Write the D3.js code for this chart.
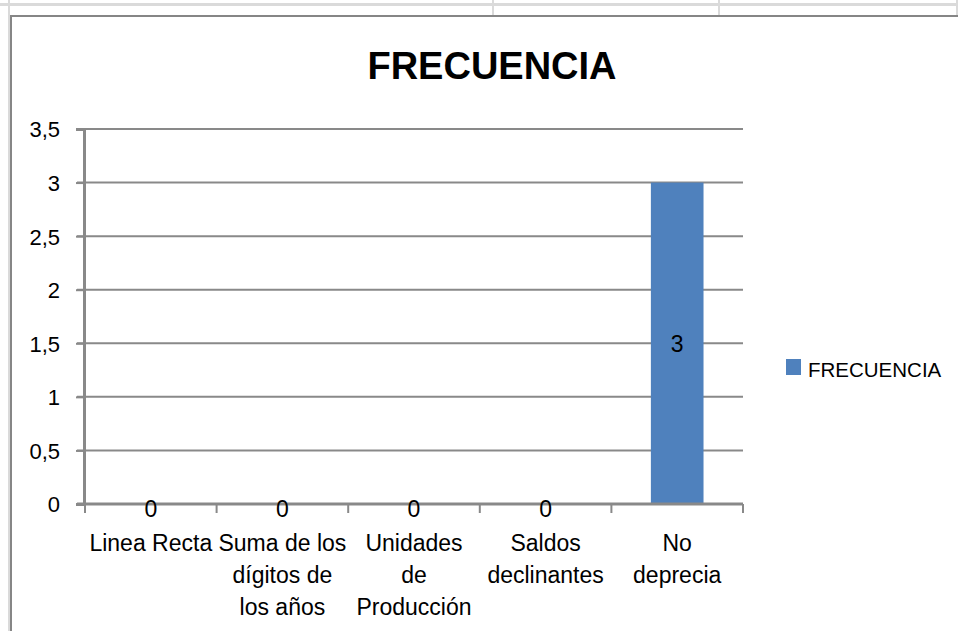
<!DOCTYPE html>
<html>
<head>
  <meta charset="utf-8">
  <script src="https://cdnjs.cloudflare.com/ajax/libs/d3/7.8.5/d3.min.js"></script>
  <style>
    * { box-sizing: border-box; }
    body, html {
      margin: 0;
      padding: 0;
      background: #fff;
      overflow: hidden;
    }
    svg text { font-family: "Liberation Sans", Arial, sans-serif; fill: #000; }
  </style>
</head>
<body>
<div id="chart"></div>
<script>
// data
const categories = ["Linea Recta", "Suma de los dígitos de los años", "Unidades de Producción", "Saldos declinantes", "No deprecia"];
const categoryLines = [
  ["Linea Recta"],
  ["Suma de los", "dígitos de", "los años"],
  ["Unidades", "de", "Producción"],
  ["Saldos", "declinantes"],
  ["No", "deprecia"]
];
const frecuencia = [0, 0, 0, 0, 3];
const yTicks = [0, 0.5, 1, 1.5, 2, 2.5, 3, 3.5];
const seriesName = "FRECUENCIA";
const chartTitle = "FRECUENCIA";

const W = 958, H = 631;
const gridColor = "#898989";
const barColor = "#4f81bd";

const svg = d3.select("#chart").append("svg")
  .attr("width", W)
  .attr("height", H);

svg.append("rect").attr("width", W).attr("height", H).attr("fill", "#fff");

// spreadsheet cells peeking out above the chart
const sheet = svg.append("g");
sheet.append("line").attr("x1", 0).attr("x2", W).attr("y1", 4.5).attr("y2", 4.5)
  .attr("stroke", "#dadada").attr("stroke-width", 3);
[9, 493, 719, 957].forEach(x => {
  sheet.append("line").attr("x1", x).attr("x2", x).attr("y1", 0).attr("y2", x === 9 ? H : 16)
    .attr("stroke", "#dadada").attr("stroke-width", 2);
});

// chart frame
svg.append("path")
  .attr("d", `M11,${H + 5}V16H${W + 5}`)
  .attr("fill", "none")
  .attr("stroke", "#868686")
  .attr("stroke-width", 2);

// scales
const x = d3.scaleBand().domain(categories).range([85, 743]).padding(0);
const y = d3.scaleLinear().domain([0, 3.5]).range([504, 129]);

const es = d3.formatLocale({ decimal: ",", thousands: ".", grouping: [3], currency: ["", " €"] });
const fmt = es.format(".1~f");

// gridlines
svg.append("g")
  .selectAll("line")
  .data(yTicks.filter(d => d > 0))
  .join("line")
    .attr("x1", 77).attr("x2", x.range()[1])
    .attr("y1", d => y(d)).attr("y2", d => y(d))
    .attr("stroke", gridColor)
    .attr("stroke-width", 2);

// y axis
const yAxis = svg.append("g")
  .attr("transform", "translate(84,0)")
  .call(d3.axisLeft(y).tickValues(yTicks).tickFormat(fmt).tickSize(8).tickPadding(16));
yAxis.select(".domain").attr("stroke", gridColor).attr("stroke-width", 3);
yAxis.selectAll(".tick line").attr("stroke", gridColor).attr("stroke-width", 2);
yAxis.selectAll(".tick text")
  .attr("font-size", "22px")
  .attr("font-family", null)
  .attr("dy", "0.36em");

// bars
const barW = x.bandwidth() / 2.5;
svg.append("g")
  .selectAll("rect")
  .data(frecuencia)
  .join("rect")
    .attr("x", (d, i) => x(categories[i]) + (x.bandwidth() - barW) / 2)
    .attr("y", d => y(d))
    .attr("width", barW)
    .attr("height", d => y(0) - y(d))
    .attr("fill", barColor);

// x axis line + boundary ticks
const bounds = categories.map(c => x(c)).concat([x.range()[1]]);
svg.append("line")
  .attr("x1", 77).attr("x2", x.range()[1])
  .attr("y1", y(0)).attr("y2", y(0))
  .attr("stroke", gridColor).attr("stroke-width", 3);
svg.append("g")
  .selectAll("line")
  .data(bounds)
  .join("line")
    .attr("x1", d => d).attr("x2", d => d)
    .attr("y1", y(0)).attr("y2", y(0) + 9)
    .attr("stroke", gridColor).attr("stroke-width", 2);

// data labels
svg.append("g")
  .selectAll("text")
  .data(frecuencia)
  .join("text")
    .attr("x", (d, i) => x(categories[i]) + x.bandwidth() / 2)
    .attr("y", d => d === 0 ? y(0) + 5 : (y(d) + y(0)) / 2)
    .attr("dy", "0.36em")
    .attr("text-anchor", "middle")
    .attr("font-size", "23px")
    .text(d => d);

// category labels
const catG = svg.append("g");
categoryLines.forEach((lines, i) => {
  const t = catG.append("text")
    .attr("text-anchor", "middle")
    .attr("font-size", "23px");
  lines.forEach((ln, j) => {
    t.append("tspan")
      .attr("x", x(categories[i]) + x.bandwidth() / 2)
      .attr("y", 551 + j * 32)
      .text(ln);
  });
});

// title
svg.append("text")
  .attr("x", 492)
  .attr("y", 79)
  .attr("text-anchor", "middle")
  .attr("font-size", "38px")
  .attr("font-weight", "bold")
  .text(chartTitle);

// legend
const leg = svg.append("g").attr("transform", "translate(786,359)");
leg.append("rect").attr("width", 15).attr("height", 16).attr("fill", barColor);
leg.append("text")
  .attr("x", 22)
  .attr("y", 18)
  .attr("font-size", "20.5px")
  .text(seriesName);
</script>
</body>
</html>
